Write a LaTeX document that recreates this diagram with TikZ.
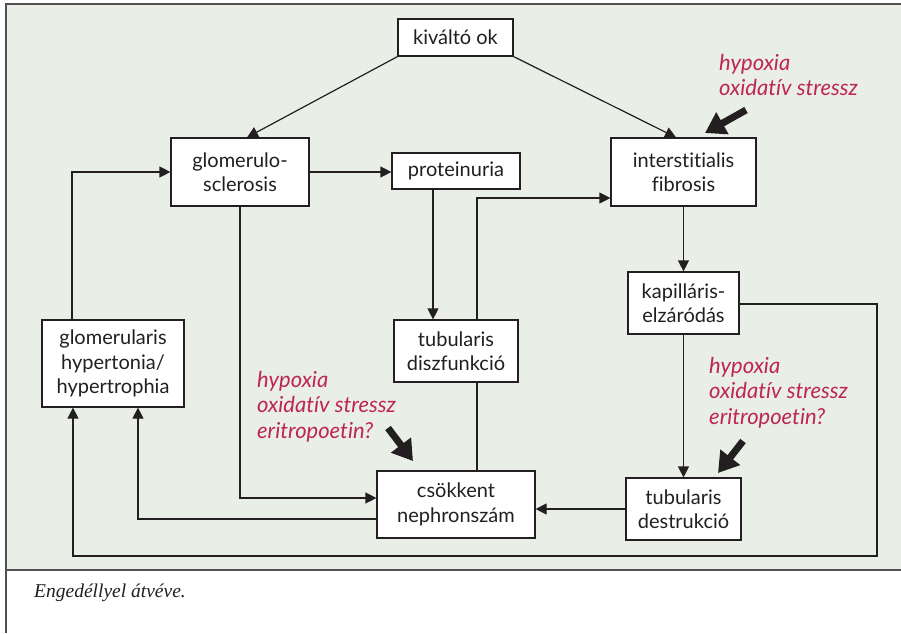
\documentclass[tikz,border=0pt]{standalone}
\usepackage{fontspec}
\setmainfont{Lato}[Ligatures={NoCommon,NoRare}]
\newfontfamily\capfont{Liberation Serif}
\usetikzlibrary{arrows.meta,calc}
\definecolor{panel}{RGB}{233,239,230}
\definecolor{frame}{RGB}{80,80,80}
\definecolor{ink}{RGB}{35,31,32}
\definecolor{redtxt}{RGB}{190,38,78}
\begin{document}
\begin{tikzpicture}[x=1pt,y=-1pt,
  box/.style={draw=ink,line width=1.2pt,fill=white,inner sep=0pt,align=center,
    text=ink,font=\fontsize{20}{24.5}\selectfont},
  arr/.style={draw=ink,line width=1.2pt,-{Triangle[length=11pt,width=11pt]}},
  plain/.style={draw=ink,line width=1.2pt},
  big/.style={draw=ink,line width=7pt,-{Triangle[length=20pt,width=24pt]}},
  note/.style={anchor=north west,inner sep=0pt,align=left,text=redtxt,
    font=\fontsize{22}{25.5}\selectfont\itshape}]
\useasboundingbox (0,0) rectangle (901,633);
\fill[white] (0,0) rectangle (901,633);
\fill[panel] (6,4) rectangle (901,570);
\draw[frame,line width=1.5pt] (901,4) -- (6,4) -- (6,633);
\draw[frame,line width=1.5pt] (6,570) -- (901,570);

\node[box,minimum width=115pt,minimum height=37pt] (ok) at (455.5,37.5) {kiváltó ok};
\node[box,minimum width=138pt,minimum height=68pt] (gs) at (240,172) {glomerulo-\\sclerosis};
\node[box,minimum width=128pt,minimum height=36pt] (prot) at (456,171) {proteinuria};
\node[box,minimum width=145pt,minimum height=68pt] (inf) at (683.5,172) {interstitialis\\fibrosis};
\node[box,minimum width=111pt,minimum height=62pt] (kap) at (683.5,303) {kapilláris-\\elzáródás};
\node[box,minimum width=124pt,minimum height=62pt] (tdf) at (456,351) {tubularis\\diszfunkció};
\node[box,minimum width=142pt,minimum height=87pt] (gh) at (113,363.5) {glomerularis\\hypertonia/\\hypertrophia};
\node[box,minimum width=158pt,minimum height=67pt] (cs) at (456,504.5) {csökkent\\nephronszám};
\node[box,minimum width=115pt,minimum height=62pt] (tde) at (683.5,509) {tubularis\\destrukció};

\coordinate (p1) at ($(prot.south)+(-23,0)$);
\coordinate (t1) at ($(tdf.north)+(21,0)$);
\coordinate (t2) at ($(tdf.south)+(21,0)$);
\coordinate (i1) at ($(inf.west)+(0,26)$);
\coordinate (c1) at (877,556);

\draw[arr] (ok.south west) -- ($(gs.north)+(7,0)$);
\draw[arr] (ok.south east) -- ($(inf.north)+(-7.5,0)$);
\draw[arr] (gs.east) -- (gs.east -| prot.west);
\draw[arr] (p1) -- (p1 |- tdf.north);
\draw[arr] (t1) |- (i1);
\draw[plain] (t2) -- (t2 |- cs.north);
\draw[arr] (gs.south) |- ($(cs.west)+(0,-6.5)$);
\draw[arr] ($(cs.west)+(0,14.5)$) -| ($(gh.south)+(25,0)$);
\draw[arr] ($(gh.north)+(-41,0)$) |- (gs.west);
\draw[arr] (inf.south) -- (kap.north);
\draw[arr] (kap.south) -- (tde.north);
\draw[arr] (tde.west) -- (tde.west -| cs.east);
\draw[arr] ($(kap.east)+(0,1)$) -| (c1) -| ($(gh.south)+(-40,0)$);

\node[note] (n1) at (719,54) {hypoxia\\oxidatív stressz};
\node[note] (n2) at (257,371) {hypoxia\\oxidatív stressz\\eritropoetin?};
\node[note] (n3) at (709,357) {hypoxia\\oxidatív stressz\\eritropoetin?};

\coordinate (a1s) at (746,110); \coordinate (a1e) at (705,133);
\coordinate (a2s) at (388,428); \coordinate (a2e) at (413,461);
\coordinate (a3s) at (743,441); \coordinate (a3e) at (718,473);
\draw[big] (a1s) -- (a1e);
\draw[big] (a2s) -- (a2e);
\draw[big] (a3s) -- (a3e);

\node[anchor=west,inner sep=0pt,text=ink,font=\capfont\fontsize{19.5}{22}\selectfont\itshape] (cap) at (34,593) {Engedéllyel átvéve.};
\end{tikzpicture}
\end{document}
